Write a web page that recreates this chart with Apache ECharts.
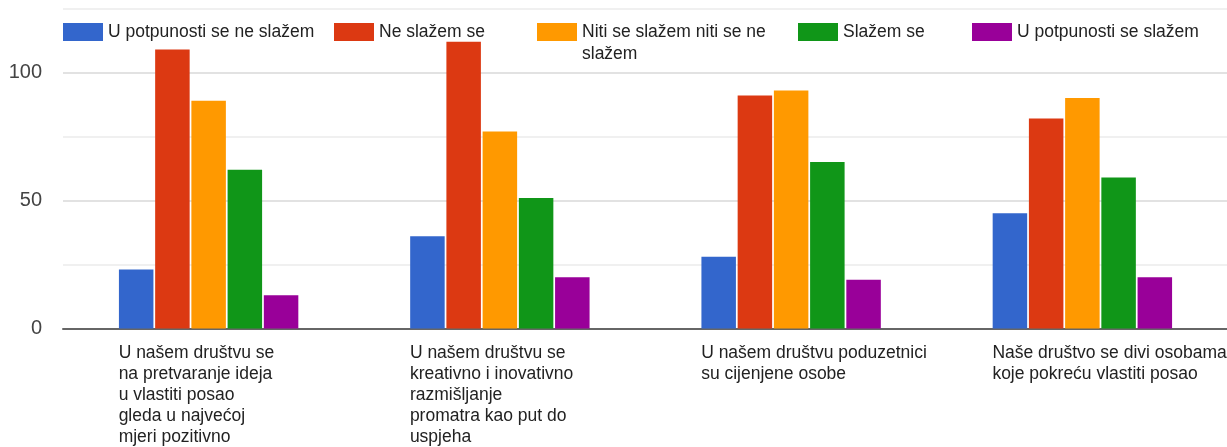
<!DOCTYPE html>
<html>
<head>
<meta charset="utf-8">
<script src="https://cdn.jsdelivr.net/npm/echarts@6/dist/echarts.min.js"></script>
<style>
html,body{margin:0;padding:0;background:#fff;}
#chart{width:1227px;height:447px;}
</style>
</head>
<body>
<div id="chart"></div>
<script>
const categories = [
  "U našem društvu se\nna pretvaranje ideja\nu vlastiti posao\ngleda u najvećoj\nmjeri pozitivno",
  "U našem društvu se\nkreativno i inovativno\nrazmišljanje\npromatra kao put do\nuspjeha",
  "U našem društvu poduzetnici\nsu cijenjene osobe",
  "Naše društvo se divi osobama\nkoje pokreću vlastiti posao"
];
const seriesNames = [
  "U potpunosti se ne slažem",
  "Ne slažem se",
  "Niti se slažem niti se ne slažem",
  "Slažem se",
  "U potpunosti se slažem"
];
const legendLabels = [
  "U potpunosti se ne slažem",
  "Ne slažem se",
  "Niti se slažem niti se ne\nslažem",
  "Slažem se",
  "U potpunosti se slažem"
];
const stronglyDisagree = [23, 36, 28, 45];
const disagree = [109, 112, 91, 82];
const neutral = [89, 77, 93, 90];
const agree = [62, 51, 65, 59];
const stronglyAgree = [13, 20, 19, 20];
const seriesValues = [stronglyDisagree, disagree, neutral, agree, stronglyAgree];
const yTickLabels = [0, 50, 100];

const colors = ['#3366cc', '#dc3912', '#ff9900', '#109618', '#990099'];
const FONT = "'Liberation Sans', Arial, sans-serif";

const legendLeft = [63, 334, 537, 798, 972];
const legends = seriesNames.map((name, i) => {
  const multi = legendLabels[i].indexOf('\n') >= 0;
  return {
    show: true,
    left: legendLeft[i],
    top: multi ? -1 : 21,
    padding: 0,
    orient: 'horizontal',
    itemWidth: 40,
    itemHeight: 18,
    icon: 'rect',
    selectedMode: false,
    data: [name],
    // for the wrapped label, an empty leading line keeps the first text line level with the swatch
    formatter: () => (multi ? '\n' : '') + legendLabels[i],
    textStyle: {
      fontFamily: FONT,
      fontSize: 17.5,
      lineHeight: 22,
      color: '#222'
    }
  };
});

const chart = echarts.init(document.getElementById('chart'), null, {renderer: 'canvas'});
chart.setOption({
  animation: false,
  backgroundColor: '#fff',
  color: colors,
  legend: legends,
  grid: {
    left: 63, right: -1, top: 8.5, bottom: 118.5,
    containLabel: false,
    outerBoundsMode: 'none'
  },
  xAxis: {
    type: 'category',
    data: categories,
    axisLine: {show: true, lineStyle: {color: '#666', width: 2}},
    axisTick: {show: false},
    splitLine: {show: false},
    axisLabel: {
      interval: 0,
      hideOverlap: false,
      margin: 14,
      align: 'center',
      verticalAlign: 'top',
      formatter: v => v.split('\n').map(l => '{a|' + l + '}').join('\n'),
      rich: {
        a: {
          width: 180,
          align: 'left',
          fontFamily: FONT,
          fontSize: 17.5,
          lineHeight: 21,
          color: '#222'
        }
      }
    }
  },
  yAxis: {
    type: 'value',
    min: 0,
    max: 125,
    interval: 25,
    axisLine: {show: false},
    axisTick: {show: false},
    axisLabel: {
      margin: 21,
      fontFamily: FONT,
      fontSize: 20,
      color: '#444',
      formatter: v => (yTickLabels.indexOf(v) >= 0 ? String(v) : '')
    },
    splitLine: {
      show: true,
      lineStyle: {
        color: ['#cccccc', '#ebebeb', '#d9d9d9', '#ebebeb', '#d9d9d9', '#ebebeb'],
        width: 1.5
      }
    }
  },
  series: seriesNames.map((name, i) => ({
    name: name,
    type: 'bar',
    data: seriesValues[i],
    barWidth: 34.5,
    barGap: '5%',
    itemStyle: {color: colors[i]},
    emphasis: {disabled: true}
  }))
});
</script>
</body>
</html>
